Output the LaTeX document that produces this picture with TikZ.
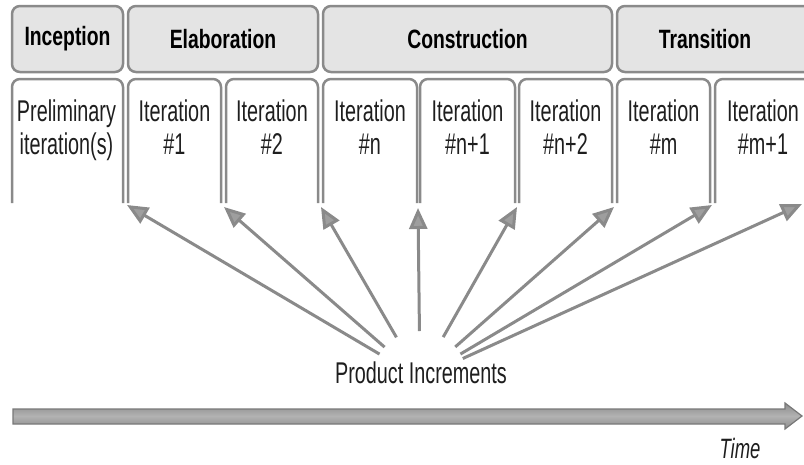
\documentclass[tikz,border=0pt]{standalone}
\usepackage{fontspec}
\usepackage{tikz}
\usetikzlibrary{arrows.meta,positioning,calc}

\newfontfamily\condfont[FakeStretch=0.66]{Liberation Sans}
\newfontfamily\headfont[FakeStretch=0.73]{Liberation Sans}

\definecolor{linegray}{RGB}{138,138,138}
\definecolor{phasefill}{RGB}{228,228,228}
\definecolor{tipfill}{RGB}{158,158,158}
\definecolor{textdark}{RGB}{30,30,30}
\definecolor{barline}{RGB}{120,120,120}
\definecolor{bargray}{RGB}{140,140,140}
\definecolor{barlight}{RGB}{178,178,178}

\begin{document}
\begin{tikzpicture}[x=1pt,y=-1pt,
  phase/.style={draw=linegray,fill=phasefill,line width=2.5pt,rounded corners=8pt,minimum height=66pt,inner sep=0pt,font=\headfont\bfseries\fontsize{26.5}{30}\selectfont,text=black},
  iterbox/.style={draw=linegray,line width=2.5pt,rounded corners=8pt},
  itertext/.style={anchor=north,inner sep=0pt,align=center,font=\condfont\fontsize{30}{33}\selectfont,text=textdark},
  incr/.style={draw=linegray,line width=3pt,shorten <=47pt,-{Triangle[length=21pt,width=18pt,fill=tipfill]}}]
\useasboundingbox (0,0) rectangle (804,464);
\clip (0,0) rectangle (804,464);

% Phases
\node[phase,minimum width=111pt] (incep) at (67.5,39) {Inception};
\node[phase,minimum width=190pt] (elab) at (223,39) {Elaboration};
\node[phase,minimum width=289pt] (constr) at (467.5,39) {Construction};
\node[phase,minimum width=213pt] (trans) at (723.5,39) {};
\node[font=\headfont\bfseries\fontsize{26.5}{30}\selectfont] (translbl) at (705,39) {Transition};

% Iterations (open at the bottom)
\draw[iterbox] (12,203) -- (12,79) -- (123,79) -- (123,203);
\node[itertext] (pre) at (66.5,100) {Preliminary\\iteration(s)};
\draw[iterbox] (128,203) -- (128,79) -- (221,79) -- (221,203);
\node[itertext] (it1) at (174.5,100) {Iteration\\\#1};
\draw[iterbox] (226,203) -- (226,79) -- (318,79) -- (318,203);
\node[itertext] (it2) at (272,100) {Iteration\\\#2};
\draw[iterbox] (323,203) -- (323,79) -- (417,79) -- (417,203);
\node[itertext] (itn) at (370,100) {Iteration\\\#n};
\draw[iterbox] (420,203) -- (420,79) -- (515,79) -- (515,203);
\node[itertext] (itn1) at (467.5,100) {Iteration\\\#n+1};
\draw[iterbox] (519,203) -- (519,79) -- (612,79) -- (612,203);
\node[itertext] (itn2) at (565.5,100) {Iteration\\\#n+2};
\draw[iterbox] (617,203) -- (617,79) -- (710,79) -- (710,203);
\node[itertext] (itm) at (663.5,100) {Iteration\\\#m};
\draw[iterbox] (715,203) -- (715,79) -- (811,79) -- (811,203);
\node[itertext] (itm1) at (763,100) {Iteration\\\#m+1};

% Product increments
\node[font=\condfont\fontsize{30}{33}\selectfont,text=textdark] (prod) at (421,373) {Product Increments};
\coordinate (hub) at ($(prod.center)+(-1,5)$);

\coordinate (b1) at (127,205);
\coordinate (b2) at (224,207);
\coordinate (b3) at (321,207);
\coordinate (b4) at (418,208);
\coordinate (b5) at (517,207);
\coordinate (b6) at (614,207);
\coordinate (b7) at (712,205);
\coordinate (b8) at (802,204);

\draw[incr] (hub) -- (b1);
\draw[incr] (hub) -- (b2);
\draw[incr] (hub) -- (b3);
\draw[incr] (hub) -- (b4);
\draw[incr] (hub) -- (b5);
\draw[incr] (hub) -- (b6);
\draw[incr] (hub) -- (b7);
\draw[incr] (hub) -- (b8);

% Time axis
\draw[draw=barline,line width=1.2pt,top color=bargray,bottom color=bargray,middle color=barlight]
  (13,409) -- (785,409) -- (785,403) -- (802,416) -- (785,429) -- (785,424) -- (13,424) -- cycle;
\node[inner sep=0pt,font=\condfont\itshape\fontsize{28}{30}\selectfont,text=textdark] (time) at (740,448) {Time};
\end{tikzpicture}
\end{document}
